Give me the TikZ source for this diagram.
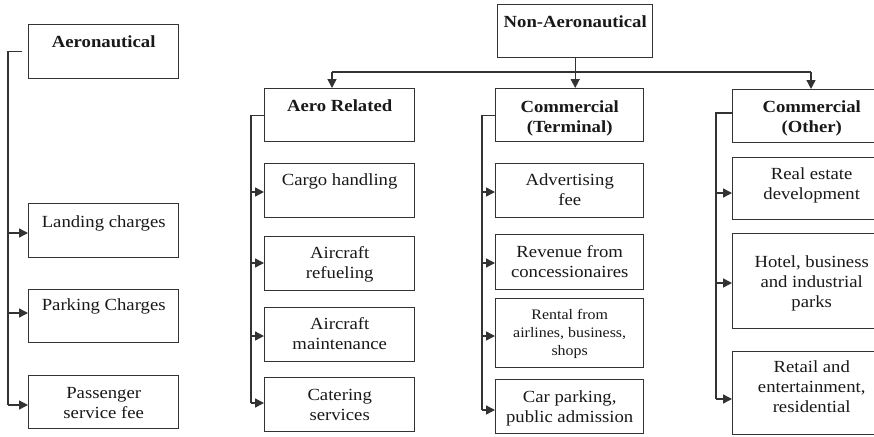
\documentclass[tikz,border=0pt]{standalone}
\usepackage{fontspec}
\setmainfont{Liberation Serif}[FakeStretch=1.1]
\usetikzlibrary{arrows.meta}
\newcommand\bxt[4]{\parbox[c][#1][t]{#2}{\centering\vspace*{#3}\strut #4\par}}
\tikzset{
  box/.style={draw=black!80, line width=1.4pt, inner sep=0pt, anchor=north west,
              text=black!90, font=\fontsize{17}{20}\selectfont},
  small/.style={font=\fontsize{14.5}{18}\selectfont},
  conn/.style={draw=black!80, line width=1.4pt},
  arr/.style={conn, -{Triangle[length=9pt,width=9pt]}}
}
\begin{document}
\begin{tikzpicture}[x=1pt,y=-1pt]
\useasboundingbox (0,0) rectangle (874,436);
\clip (0,0) rectangle (874,436);
\fill[white] (0,0) rectangle (874,436);
% left column
\node[box] (aero) at (28,24) {\bxt{54pt}{150pt}{9pt}{\textbf{Aeronautical}}};
\node[box] (land) at (28,203) {\bxt{54pt}{150pt}{10pt}{Landing charges}};
\node[box] (park) at (28,289) {\bxt{53pt}{150pt}{7pt}{Parking Charges}};
\node[box] (pass) at (28,375) {\bxt{53pt}{150pt}{9pt}{Passenger\\service fee}};
% top
\node[box] (nonaero) at (497,4) {\bxt{53pt}{155pt}{9pt}{\textbf{Non-Aeronautical}}};
% aero related
\node[box] (ar) at (264,88) {\bxt{53pt}{150pt}{9pt}{\textbf{Aero Related}}};
\node[box] (cargo) at (264,163) {\bxt{54pt}{150pt}{8pt}{Cargo handling}};
\node[box] (refuel) at (264,236) {\bxt{54pt}{150pt}{8pt}{Aircraft\\refueling}};
\node[box] (maint) at (264,307) {\bxt{54pt}{150pt}{8pt}{Aircraft\\maintenance}};
\node[box] (cater) at (264,377) {\bxt{54pt}{150pt}{9pt}{Catering\\services}};
% commercial terminal
\node[box] (ct) at (495,88) {\bxt{53pt}{148pt}{10pt}{\textbf{Commercial}\\\textbf{(Terminal)}}};
\node[box] (adv) at (495,163) {\bxt{54pt}{148pt}{8pt}{Advertising\\fee}};
\node[box] (rev) at (495,234) {\bxt{55pt}{148pt}{9pt}{Revenue from\\concessionaires}};
\node[box,small] (rental) at (495,298) {\bxt{69pt}{148pt}{8pt}{Rental from\\airlines, business,\\shops}};
\node[box] (car) at (495,379) {\bxt{54pt}{148pt}{9pt}{Car parking,\\public admission}};
% commercial other
\node[box] (co) at (732,89) {\bxt{53pt}{158pt}{9pt}{\textbf{Commercial}\\\textbf{(Other)}}};
\node[box] (real) at (732,157) {\bxt{62pt}{158pt}{8pt}{Real estate\\development}};
\node[box] (hotel) at (732,233) {\bxt{95pt}{158pt}{20pt}{Hotel, business\\and industrial\\parks}};
\node[box] (retail) at (732,351) {\bxt{83pt}{158pt}{7pt}{Retail and\\entertainment,\\residential}};
% top connectors
\coordinate (hl) at (332,72);
\coordinate (hr) at (811,72);
\draw[conn] (hl) -- (hr);
\draw[arr] (hl) -- (hl |- ar.north);
\draw[arr] (nonaero.south) -- (nonaero.south |- ct.north);
\draw[arr] (hr) -- (hr |- co.north);
% left bracket
\coordinate (bl) at (8,0);
\draw[conn] ([xshift=-6pt]aero.west) -- (bl |- aero.west) -- (bl |- 0,405);
\draw[arr] (bl |- 0,233) -- (land.west |- 0,233);
\draw[arr] (bl |- 0,313) -- (park.west |- 0,313);
\draw[arr] (bl |- 0,405) -- (pass.west |- 0,405);
% aero related bracket
\coordinate (bm) at (251,0);
\draw[conn] (ar.west) -- (bm |- ar.west) -- (bm |- 0,403);
\draw[arr] (bm |- 0,192) -- (cargo.west |- 0,192);
\draw[arr] (bm |- 0,263) -- (refuel.west |- 0,263);
\draw[arr] (bm |- 0,336) -- (maint.west |- 0,336);
\draw[arr] (bm |- 0,403) -- (cater.west |- 0,403);
% commercial terminal bracket
\coordinate (bt) at (482,0);
\draw[conn] (ct.west) -- (bt |- ct.west) -- (bt |- 0,410);
\draw[arr] (bt |- 0,192) -- (adv.west |- 0,192);
\draw[arr] (bt |- 0,263) -- (rev.west |- 0,263);
\draw[arr] (bt |- 0,336) -- (rental.west |- 0,336);
\draw[arr] (bt |- 0,410) -- (car.west |- 0,410);
% commercial other bracket
\coordinate (bo) at (716,0);
\draw[conn] (co.west |- 0,113) -- (bo |- 0,113) -- (bo |- 0,399);
\draw[arr] (bo |- 0,193) -- (real.west |- 0,193);
\draw[arr] (bo |- 0,283) -- (hotel.west |- 0,283);
\draw[arr] (bo |- 0,399) -- (retail.west |- 0,399);
\end{tikzpicture}
\end{document}
